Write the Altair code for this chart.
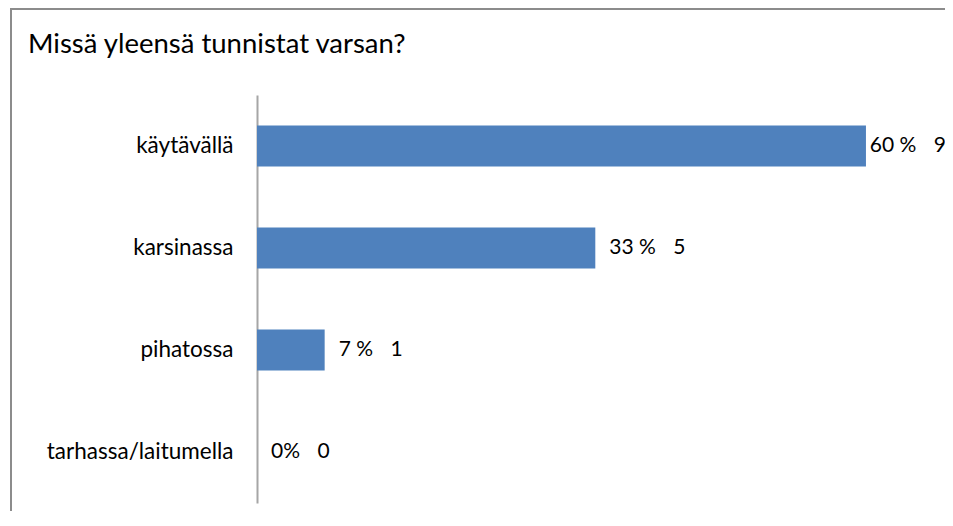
import altair as alt
import pandas as pd

title_text = "Missä yleensä tunnistat varsan?"
categories = ["käytävällä", "karsinassa", "pihatossa", "tarhassa/laitumella"]
counts = [9, 5, 1, 0]
pct_labels = ["60 %", "33 %", "7 %", "0%"]
total = 15

NB = "\u00a0"
df = pd.DataFrame({
    "cat": categories,
    "count": counts,
    "share": [c / total for c in counts],
    "label": [p + NB * 3 + "\u200a" + str(c) for p, c in zip(pct_labels, counts)],
})

FONT = "Lato"

y = alt.Y("cat:N", sort=categories, title=None,
          scale=alt.Scale(paddingInner=0.6, paddingOuter=0.3),
          axis=alt.Axis(domainColor="#a6a6a6", domainWidth=2, ticks=False,
                        labelFontSize=22.5, labelFont=FONT, labelColor="#000000",
                        labelPadding=24, labelLimit=400, grid=False))
xscale = alt.Scale(domain=[0, 0.67], nice=False, zero=True)
x = alt.X("share:Q", title=None, scale=xscale, axis=None)

bars = alt.Chart(df).mark_bar(color="#4F81BD").encode(x=x, y=y)
# Excel pulls the outside-end label inward when it would overrun the chart area
text = alt.Chart(df).transform_calculate(
    lx="min(datum.share, 0.590)"
).mark_text(align="left", baseline="middle", dx=14,
            fontSize=21, font=FONT, color="#000000").encode(
    x=alt.X("lx:Q", scale=xscale, axis=None), y=y, text="label:N")

deco = alt.Chart(pd.DataFrame({"t": [title_text]}))
# chart-area frame (top and left edges are the visible ones)
frame_top = deco.mark_rule(stroke="#8c8c8c", strokeWidth=2).encode(
    x=alt.value(-247), x2=alt.value(720), y=alt.value(-86))
frame_left = deco.mark_rule(stroke="#8c8c8c", strokeWidth=2).encode(
    x=alt.value(-246), y=alt.value(-87), y2=alt.value(440))
title = deco.mark_text(align="left", baseline="alphabetic", fontSize=27.5,
                       font=FONT, color="#000000").encode(
    x=alt.value(-229), y=alt.value(-42), text="t:N")

chart = alt.layer(frame_top, frame_left, bars, text, title).properties(
    width=680, height=408,
    padding={"left": 249, "top": 87, "right": 8, "bottom": 8},
    autosize=alt.AutoSizeParams(type="none"),
).configure_view(stroke=None)

chart.save("out.html", embed_options={"renderer": "svg", "actions": False})
